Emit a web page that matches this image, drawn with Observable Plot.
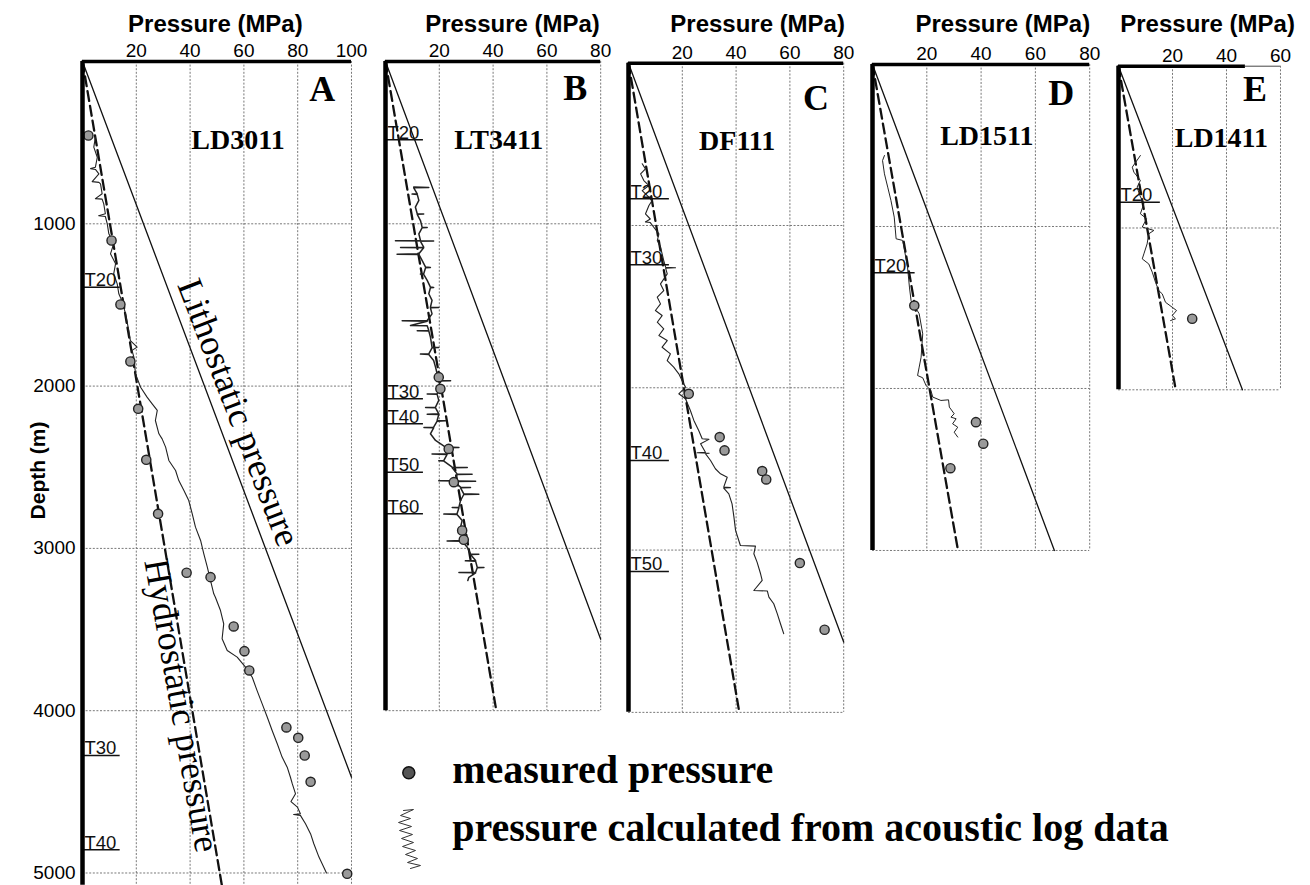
<!DOCTYPE html>
<html><head><meta charset="utf-8">
<script src="https://cdn.jsdelivr.net/npm/d3@7"></script>
<script src="https://cdn.jsdelivr.net/npm/@observablehq/plot@0.6"></script>
<style>
html,body{margin:0;padding:0;background:#fff;}
#chart{position:relative;width:1310px;height:885px;overflow:hidden;background:#fff;}
#chart svg{position:absolute;}
</style></head><body><div id="chart"></div>
<script>
// ---------------- DATA ----------------
const wells = ["LD3011", "LT3411", "DF111", "LD1511", "LD1411"];
const panelLetters = ["A", "B", "C", "D", "E"];
const pressureMax = [100, 80, 80, 80, 60];
const depthMax = [5075, 4000, 4000, 3000, 2000];
const pressureTicks = [[20, 40, 60, 80, 100], [20, 40, 60, 80], [20, 40, 60, 80], [20, 40, 60, 80], [20, 40, 60]];
const depthTicks = [1000, 2000, 3000, 4000, 5000];
const xTitle = "Pressure (MPa)";
const yTitle = "Depth (m)";
const hydrostaticEnd = [[51.8, 5075], [41.2, 4000], [41.2, 4000], [31.5, 3000], [21.2, 2000]];
const lithostaticEnd = [[100, 4410], [80, 3560], [80, 3567], [67, 3000], [45.9, 2000]];
const lineLabels = ["Lithostatic pressure", "Hydrostatic pressure"];
const legendLabels = ["measured pressure", "pressure calculated from acoustic log data"];

// pressure calculated from acoustic log data: [pressure MPa, depth m]
const curveA = [[4.8,466],[4.2,528],[5.5,590],[4.8,651],[3.0,660],[4.8,665],[6.1,692],[3.6,740],[6.1,745],[6.7,754],[7.3,815],[4.8,845],[7.3,848],[7.9,877],[8.5,938],[6.0,950],[8.5,955],[9.2,1000],[9.8,1062],[11.6,1123],[10.4,1185],[12.3,1246],[11.6,1308],[12.9,1370],[13.5,1431],[14.8,1480],[16.0,1555],[17.2,1657],[17.8,1720],[20.3,1760],[18.4,1780],[19.1,1822],[19.7,1925],[21.6,2007],[24.0,2068],[25.9,2109],[27.8,2150],[27.1,2212],[28.4,2294],[29.6,2325],[30.9,2376],[32.1,2458],[34.6,2520],[35.8,2582],[37.7,2643],[39.5,2705],[40.8,2787],[42.0,2869],[43.9,2951],[45.1,3033],[46.4,3116],[47.6,3198],[48.8,3280],[49.4,3301],[51.3,3383],[52.5,3465],[51.9,3557],[53.8,3629],[57.5,3670],[60.6,3732],[63.1,3794],[64.9,3876],[66.8,3958],[68.7,4040],[70.5,4122],[72.4,4204],[74.2,4286],[76.1,4348],[77.3,4410],[78.0,4451],[79.2,4512],[77.5,4560],[79.9,4594],[81.0,4635],[78.5,4640],[81.0,4645],[82.9,4697],[84.8,4759],[86.0,4820],[87.9,4902],[89.7,4964],[90.7,5000]];
const curveB = [[10.5,774],[16.1,776],[10.5,778],[11.8,815],[9.9,817],[11.8,819],[12.4,856],[11.1,897],[11.8,938],[14.2,940],[11.8,942],[13.0,980],[13.6,1021],[15.5,1023],[13.6,1025],[12.4,1062],[13.0,1103],[3.7,1104],[17.9,1106],[13.0,1108],[14.2,1144],[5.6,1146],[14.2,1148],[12.4,1185],[4.3,1187],[12.4,1189],[13.6,1226],[14.9,1267],[16.7,1269],[14.9,1271],[14.2,1308],[13.0,1310],[14.2,1312],[15.5,1349],[16.7,1390],[17.9,1392],[16.7,1394],[16.1,1431],[17.3,1472],[16.7,1514],[19.8,1516],[16.7,1518],[17.3,1555],[15.5,1596],[6.2,1598],[15.5,1600],[9.3,1627],[15.5,1629],[16.1,1657],[11.8,1659],[16.1,1661],[16.7,1698],[17.3,1760],[19.8,1762],[17.3,1764],[16.1,1801],[13.0,1803],[16.1,1805],[17.9,1842],[18.6,1883],[19.2,1924],[19.8,1965],[24.2,1967],[19.8,1969],[20.4,2006],[19.2,2047],[15.5,2049],[19.2,2051],[19.8,2088],[18.6,2130],[14.9,2132],[18.6,2134],[19.8,2171],[15.5,2173],[19.8,2175],[19.2,2212],[22.3,2214],[19.2,2216],[17.9,2253],[14.3,2255],[17.9,2257],[16.7,2294],[18.6,2335],[22.3,2376],[27.3,2378],[22.3,2380],[22.9,2417],[17.3,2419],[22.9,2421],[21.7,2458],[19.8,2460],[21.7,2462],[24.8,2500],[30.4,2502],[24.8,2504],[26.6,2541],[32.2,2543],[26.6,2545],[25.4,2582],[19.8,2584],[33.5,2586],[25.4,2588],[27.9,2623],[31.6,2625],[27.9,2627],[29.1,2664],[34.7,2666],[29.1,2668],[27.9,2705],[27.3,2746],[24.8,2748],[27.3,2750],[26.6,2787],[21.7,2789],[26.6,2791],[28.5,2828],[27.9,2869],[29.1,2911],[28.5,2952],[22.9,2954],[28.5,2956],[30.4,2993],[31.6,3034],[34.7,3036],[31.6,3038],[33.5,3075],[29.7,3077],[33.5,3079],[34.1,3116],[36.6,3118],[34.1,3120],[33.5,3147],[27.3,3149],[33.5,3151],[31.0,3178],[30.6,3198]];
const curveC = [[5.1,620],[6.3,651],[4.5,682],[5.7,723],[7.6,754],[5.1,785],[7.0,816],[8.8,846],[7.6,877],[6.3,929],[8.1,960],[6.3,978],[8.1,982],[9.4,1011],[11.3,1052],[10.7,1093],[11.9,1134],[12.5,1175],[13.1,1216],[13.8,1257],[17.5,1260],[13.8,1263],[14.4,1298],[11.9,1360],[13.1,1401],[10.7,1442],[11.9,1483],[10.0,1524],[12.5,1555],[10.7,1596],[13.1,1637],[11.3,1678],[14.4,1709],[12.5,1750],[15.6,1791],[14.4,1832],[16.8,1873],[18.7,1914],[19.9,1955],[21.2,1996],[18.7,2037],[21.2,2068],[23.0,2140],[24.3,2201],[26.1,2263],[27.4,2314],[29.9,2318],[26.8,2345],[28.6,2397],[25.5,2400],[30.0,2403],[28.6,2406],[30.5,2448],[32.3,2499],[34.2,2530],[36.7,2551],[35.4,2612],[37.9,2615],[35.4,2618],[37.3,2654],[38.5,2715],[39.2,2797],[39.8,2879],[41.0,2941],[41.6,2972],[47.2,2976],[46.6,3023],[47.8,3074],[49.1,3146],[49.7,3187],[46.6,3249],[51.6,3252],[52.2,3290],[54.0,3331],[55.3,3392],[56.5,3454],[57.7,3515]];
const curveD = [[4.4,562],[3.7,593],[4.4,675],[5.6,757],[6.8,840],[8.0,942],[8.7,1076],[11.1,1086],[11.7,1138],[12.9,1251],[13.6,1374],[14.2,1457],[15.4,1488],[17.2,1539],[18.5,1663],[17.9,1807],[17.2,1868],[16.6,1920],[18.5,1934],[19.7,1981],[21.5,2012],[22.2,2053],[25.2,2074],[28.0,2070],[28.3,2115],[30.1,2156],[28.9,2177],[30.8,2187],[29.5,2218],[31.4,2239],[30.1,2270],[31.4,2300]];
const curveE = [[8.1,552],[5.1,624],[5.7,655],[8.1,706],[6.9,747],[7.9,799],[9.4,850],[8.1,912],[10.4,943],[8.8,994],[13.1,1015],[11.2,1036],[10.6,1098],[9.4,1160],[8.8,1191],[11.2,1222],[12.5,1273],[13.7,1335],[14.9,1387],[16.2,1407],[17.4,1459],[19.9,1490],[21.5,1510],[19.9,1541],[21.1,1561],[19.3,1572]];

// measured pressure: [pressure MPa, depth m]
const measuredA = [[2.2,456],[10.8,1103],[14.1,1497],[17.8,1848],[20.7,2140],[23.7,2454],[28.1,2787],[38.7,3150],[47.6,3177],[56.2,3481],[60.2,3633],[62.0,3752],[75.8,4103],[80.2,4167],[82.6,4276],[84.8,4438],[98.4,5005]];
const measuredB = [[19.8,1945],[20.4,2017],[23.5,2387],[25.4,2592],[28.5,2890],[29.1,2947]];
const measuredC = [[22.4,2037],[33.9,2304],[35.7,2386],[49.7,2513],[51.2,2565],[63.7,3080],[72.9,3491]];
const measuredD = [[15.4,1488],[38.1,2208],[40.8,2341],[28.7,2492]];
const measuredE = [[27.3,1561]];

// formation tops: [name, depth m]
const topsA = [["T20",1391],["T30",4276],["T40",4857]];
const topsB = [["T20",482],["T30",2078],["T40",2232],["T50",2531],["T60",2787]];
const topsC = [["T20",835],["T30",1242],["T40",2448],["T50",3132]];
const topsD = [["T20",1286]];
const topsE = [["T20",841]];

// legend swatch shape (pixels inside the legend box)
const legendWiggle = [[23,70],[33,69],[20,75],[30,78],[18,82],[31,86],[19,90],[32,94],[21,98],[33,102],[22,106],[35,110],[25,114],[37,118],[27,122],[40,125],[30,128]];

// ---------------- LAYOUT ----------------
const layout = [
  {X:82,    Y:61,   k:2.69,  s:0.1623, mL:82, mR:20, mB:0, titleP:49.4, letterP:94,   letterD:246, nameP:57.8, nameD:538, topLen:14,   topLine:100, curveW:1.1},
  {X:385,   Y:61,   k:2.69,  s:0.1623, mL:14, mR:22, mB:4, titleP:47.2, letterP:75,   letterD:240, nameP:42.1, nameD:538, topLen:14.1, topLine:80,  curveW:1.5},
  {X:628,   Y:62.7, k:2.69,  s:0.1623, mL:14, mR:22, mB:4, titleP:48,   letterP:74.5, letterD:291, nameP:40.4, nameD:534, topLen:15.2, topLine:80,  curveW:1.1},
  {X:871.5, Y:64,   k:2.715, s:0.162,  mL:14, mR:22, mB:4, titleP:48,   letterP:74.3, letterD:253, nameP:42.1, nameD:500, topLen:15.7, topLine:80,  curveW:1},
  {X:1118,  Y:65.7, k:2.7,   s:0.1618, mL:14, mR:22, mB:4, titleP:33,   letterP:55,   letterD:212, nameP:38.1, nameD:500, topLen:15.5, topLine:47,  curveW:1}
];

const SANS = "'Liberation Sans', Arial, Helvetica, sans-serif";
const SERIF = "'Liberation Serif', 'Times New Roman', serif";
const curves = [curveA, curveB, curveC, curveD, curveE];
const measured = [measuredA, measuredB, measuredC, measuredD, measuredE];
const tops = [topsA, topsB, topsC, topsD, topsE];
const P = d => d[0], D = d => d[1];
const chart = document.getElementById("chart");
const gridStyle = {stroke: "#777", strokeWidth: 1, strokeDasharray: "2,1.6"};

layout.forEach((L, i) => {
  const xmax = pressureMax[i], dmax = depthMax[i];
  const fw = xmax * L.k, fh = dmax * L.s;
  const width = L.mL + fw + L.mR;
  const height = L.Y + fh + L.mB;
  const marks = [
    Plot.ruleX(pressureTicks[i], gridStyle),
    Plot.ruleY(depthTicks.filter(d => d <= dmax), gridStyle),
    Plot.line([[0, 0], lithostaticEnd[i]], {x: P, y: D, stroke: "#111", strokeWidth: 1.3}),
    Plot.line([[0, 0], hydrostaticEnd[i]], {x: P, y: D, stroke: "#111", strokeWidth: 2.3, strokeDasharray: "10,5"}),
    Plot.line(curves[i], {x: P, y: D, stroke: "#222", strokeWidth: L.curveW}),
    Plot.ruleY(tops[i], {y: D, x1: 0, x2: L.topLen, stroke: "#111", strokeWidth: 1.5}),
    Plot.text(tops[i], {x: 0, y: D, text: P, dx: 2, dy: -1, textAnchor: "start", lineAnchor: "bottom", fontSize: 18.5, fontFamily: SANS, fill: "#111"}),
    Plot.dot(measured[i], {x: P, y: D, r: 4.6, fill: "#9a9a9a", stroke: "#222", strokeWidth: 1.4}),
    Plot.ruleY([0], {x1: 0, x2: L.topLine, stroke: "#000", strokeWidth: 3.5}),
    Plot.ruleX([0], {stroke: "#000", strokeWidth: 4.5}),
    Plot.text([xTitle], {x: L.titleP, y: 0, dy: 32 - L.Y, lineAnchor: "bottom", textAnchor: "middle", fontSize: 24, fontWeight: "bold", fontFamily: SANS, fill: "#000"}),
    Plot.text([panelLetters[i]], {x: L.letterP, y: L.letterD, textAnchor: "end", lineAnchor: "bottom", fontSize: 36, fontWeight: "bold", fontFamily: SERIF, fill: "#000"}),
    Plot.text([wells[i]], {x: L.nameP, y: L.nameD, textAnchor: "middle", lineAnchor: "bottom", fontSize: 28, fontWeight: "bold", fontFamily: SERIF, fill: "#000"})
  ];
  if (L.topLine < xmax) {
    marks.push(Plot.ruleY([0], {x1: L.topLine, x2: xmax, stroke: "#444", strokeWidth: 1}));
  }
  if (i === 0) {
    marks.push(
      Plot.text([lineLabels[0]], {x: 58, y: 2163, rotate: 69, fontSize: 36, fontFamily: SERIF, fill: "#000"}),
      Plot.text([lineLabels[1]], {x: 36.8, y: 3968, rotate: 80, fontSize: 36, fontFamily: SERIF, fill: "#000"}),
      Plot.text([yTitle], {x: 0, y: 2520, dx: -44, rotate: -90, fontSize: 21, fontWeight: "bold", fontFamily: SANS, fill: "#000"})
    );
  }
  const svg = Plot.plot({
    width, height,
    marginLeft: L.mL, marginRight: L.mR, marginTop: L.Y, marginBottom: L.mB,
    style: {background: "none", overflow: "visible", fontFamily: SANS, fontSize: "19px", color: "#000"},
    x: {domain: [0, xmax], axis: "top", ticks: pressureTicks[i], tickSize: 0, tickPadding: 4, label: null},
    y: {domain: [0, dmax], reverse: true, axis: i === 0 ? "left" : null, ticks: depthTicks, tickSize: 0, tickPadding: 7, tickFormat: d => String(d), label: null},
    marks
  });
  svg.style.left = (L.X - L.mL) + "px";
  svg.style.top = "0px";
  chart.appendChild(svg);
});

// legend
const legend = Plot.plot({
  width: 830, height: 145, margin: 0,
  style: {background: "none", overflow: "visible"},
  x: {type: "identity", axis: null},
  y: {type: "identity", axis: null},
  marks: [
    Plot.dot([[28.3, 32.3]], {x: P, y: D, r: 6, fill: "#555", stroke: "#111", strokeWidth: 1.5}),
    Plot.line(legendWiggle, {x: P, y: D, stroke: "#333", strokeWidth: 1}),
    Plot.text([legendLabels[0]], {x: 71.7, y: 42.7, textAnchor: "start", lineAnchor: "bottom", fontSize: 40, fontWeight: "bold", fontFamily: SERIF, fill: "#000"}),
    Plot.text([legendLabels[1]], {x: 71.7, y: 100, textAnchor: "start", lineAnchor: "bottom", fontSize: 40, fontWeight: "bold", fontFamily: SERIF, fill: "#000"})
  ]
});
legend.style.left = "380px";
legend.style.top = "740px";
chart.appendChild(legend);
</script></body></html>
